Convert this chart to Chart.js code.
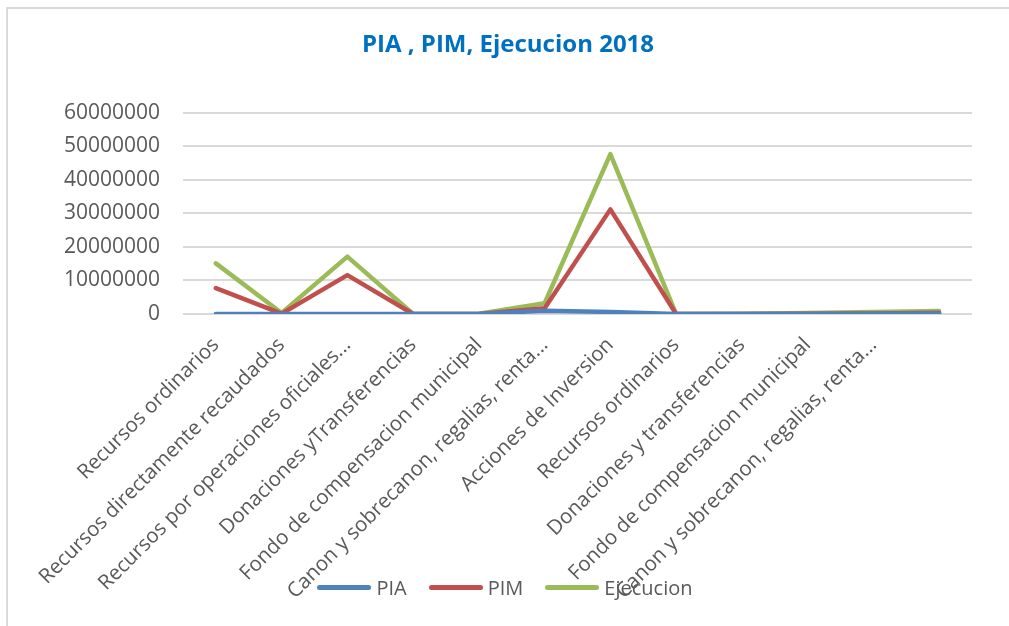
<!DOCTYPE html>
<html>
<head>
<meta charset="utf-8">
<script src="https://cdn.jsdelivr.net/npm/chart.js@4.4.1/dist/chart.umd.min.js"></script>
<style>
  html, body { margin: 0; padding: 0; background: #fff; }
  #wrap { position: relative; width: 1009px; height: 626px; overflow: hidden; }
  #frame { position: absolute; left: 6px; top: 7px; width: 1100px; height: 700px;
    border-top: 2px solid #d9d9d9; border-left: 2px solid #d9d9d9; }
  #chart { position: absolute; left: 0; top: 0; }
  #legend { position: absolute; left: 0; top: 574px; width: 1010px; display: flex;
    justify-content: center; font-family: "Open Sans", sans-serif; font-size: 20px; color: #595959; }
  .item { display: flex; align-items: center; margin: 0 11px; }
  .swatch { width: 54px; height: 5px; border-radius: 3px; margin-right: 5px; }
</style>
</head>
<body>
<div id="wrap">
  <div id="frame"></div>
  <canvas id="chart" width="1009" height="626"></canvas>
  <div id="legend"></div>
</div>
<script>
// categorias (la ultima sin etiqueta)
const categories = [
  "Recursos ordinarios",
  "Recursos directamente recaudados",
  "Recursos por operaciones oficiales...",
  "Donaciones yTransferencias",
  "Fondo de compensacion municipal",
  "Canon y sobrecanon, regalias, renta...",
  "Acciones de Inversion",
  "Recursos ordinarios",
  "Donaciones y transferencias",
  "Fondo de compensacion municipal",
  "Canon y sobrecanon, regalias, renta...",
  ""
];

const pia       = [0, 0, 0, 0, 0, 1000000, 600000, 0, 0, 0, 50000, 150000];
const pim       = [7700000, 100000, 11600000, 0, 0, 1700000, 31200000, 0, 0, 50000, 150000, 350000];
const ejecucion = [15100000, 300000, 17100000, 0, 100000, 3200000, 47700000, 0, 50000, 300000, 600000, 900000];

const yTicks = { min: 0, max: 60000000, step: 10000000 };

const seriesNames = ["PIA", "PIM", "Ejecucion"];
const seriesColors = ["#4f81bd", "#c0504d", "#9bbb59"];

const FONT = "'Open Sans', sans-serif";
const TEXT = "#595959";

function lineSet(i, data) {
  return {
    label: seriesNames[i],
    data: data,
    borderColor: seriesColors[i],
    backgroundColor: seriesColors[i],
    borderWidth: 4.5,
    borderCapStyle: "round",
    borderJoinStyle: "round",
    pointRadius: 0,
    tension: 0,
    fill: false,
  };
}

const chart = new Chart(document.getElementById("chart"), {
  type: "line",
  data: {
    labels: categories,
    datasets: [lineSet(0, pia), lineSet(1, pim), lineSet(2, ejecucion)],
  },
  options: {
    responsive: false,
    animation: false,
    layout: { padding: { left: 44, right: 37, top: 0, bottom: 0 } },
    plugins: {
      legend: { display: false },
      tooltip: { enabled: false },
      title: {
        display: true,
        text: "PIA , PIM, Ejecucion 2018",
        color: "#0070c0",
        font: { family: FONT, size: 24, weight: "bold", lineHeight: 1.2 },
        padding: { top: 31, bottom: 53 },
      },
    },
    scales: {
      x: {
        offset: true,
        grid: { display: false },
        border: { display: false },
        ticks: {
          autoSkip: false,
          maxRotation: 45,
          minRotation: 45,
          padding: 11,
          color: TEXT,
          font: { family: FONT, size: 20.5 },
        },
        afterFit: (scale) => { scale.height = 312; },
      },
      y: {
        min: yTicks.min,
        max: yTicks.max,
        grid: { color: "#d9d9d9", lineWidth: 2, drawTicks: false },
        border: { display: false },
        ticks: {
          stepSize: yTicks.step,
          padding: 23,
          color: TEXT,
          font: { family: FONT, size: 21 },
          callback: (v) => String(v),
        },
        afterFit: (scale) => { scale.width = 139; },
      },
    },
  },
});

// leyenda en html, encima de las etiquetas como en el original
const legend = document.getElementById("legend");
seriesNames.forEach((name, i) => {
  const item = document.createElement("div");
  item.className = "item";
  const sw = document.createElement("span");
  sw.className = "swatch";
  sw.style.background = seriesColors[i];
  const tx = document.createElement("span");
  tx.textContent = name;
  item.appendChild(sw);
  item.appendChild(tx);
  legend.appendChild(item);
});
</script>
</body>
</html>
